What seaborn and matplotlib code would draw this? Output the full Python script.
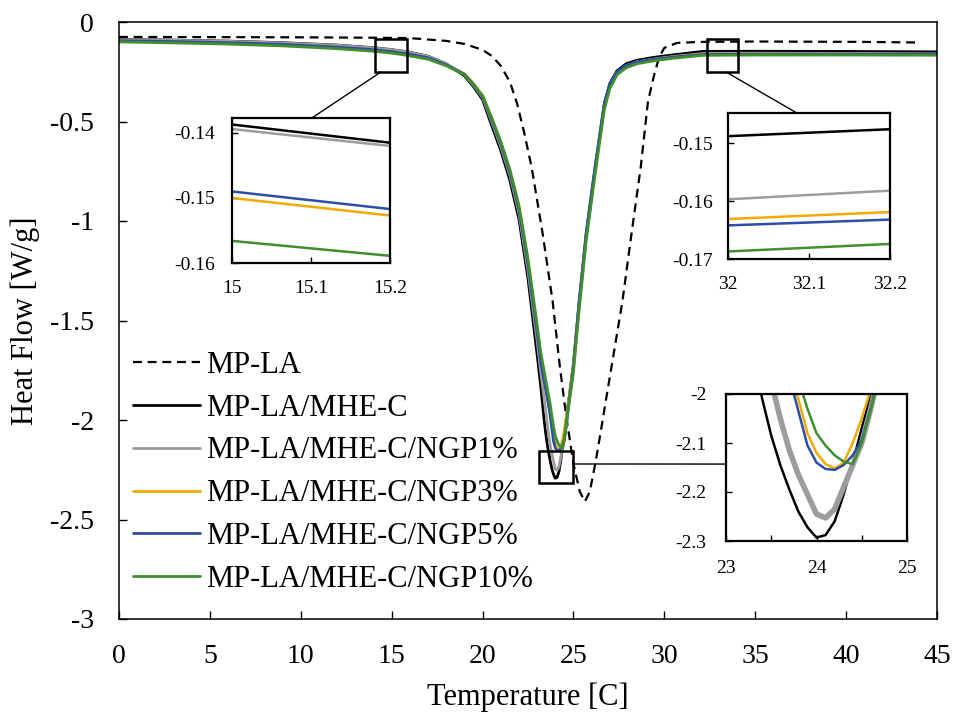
import numpy as np
import pandas as pd
import matplotlib
matplotlib.use("Agg")
import matplotlib.pyplot as plt
import seaborn as sns
from matplotlib.patches import Rectangle, ConnectionPatch
from matplotlib.ticker import FuncFormatter

# ---------------- data ----------------
temp_mpla = [0, 5, 10, 14, 16, 18, 19, 20, 20.5, 21, 21.5, 21.9, 22.3, 22.7, 23.3,
             23.85, 24.25, 24.6, 25.0, 25.35, 25.63, 25.9, 26.2, 26.5, 26.75, 27.1,
             27.7, 28.2, 28.7, 29.1, 29.4, 29.7, 30.0, 30.7, 32, 35, 38, 41, 44]
hf_mpla = [-0.075, -0.076, -0.077, -0.079, -0.081, -0.095, -0.11, -0.14, -0.17, -0.22,
           -0.30, -0.41, -0.56, -0.73, -1.06, -1.40, -1.73, -1.98, -2.22, -2.36, -2.41,
           -2.36, -2.22, -2.06, -1.92, -1.73, -1.40, -1.06, -0.73, -0.40, -0.28, -0.18,
           -0.13, -0.105, -0.10, -0.098, -0.099, -0.100, -0.103]

temp = [0, 3, 6, 9, 12, 14, 15, 15.2, 16, 17, 18, 19, 19.5, 20, 20.5, 21, 21.5, 22, 22.5, 23,
        23.2, 23.3, 23.4, 23.5, 23.6, 23.7, 23.8, 23.9, 24.0, 24.1, 24.2, 24.3, 24.4, 24.5,
        24.6, 24.7, 24.8, 25.0, 25.3, 25.7, 26.2, 26.7, 27.0, 27.4, 27.9, 28.5, 29.4, 30.5,
        32, 32.2, 35, 40, 45]

hf_mhec = [-0.088, -0.091, -0.096, -0.104, -0.116, -0.129, -0.1387, -0.1415, -0.152, -0.172,
           -0.21, -0.27, -0.325, -0.39, -0.52, -0.645, -0.795, -0.99, -1.29, -1.67,
           -1.83, -1.92, -2.01, -2.085, -2.145, -2.195, -2.24, -2.272, -2.293, -2.288, -2.26,
           -2.205, -2.14, -2.07, -2.00, -1.93, -1.86, -1.72, -1.42, -1.07, -0.73, -0.41,
           -0.31, -0.245, -0.21, -0.192, -0.178, -0.165, -0.1488, -0.1476, -0.147, -0.148, -0.150]
hf_ngp1 = [-0.089, -0.092, -0.097, -0.105, -0.117, -0.130, -0.1394, -0.1420, -0.153, -0.173,
           -0.21, -0.265, -0.318, -0.38, -0.50, -0.625, -0.77, -0.96, -1.25, -1.60,
           -1.76, -1.83, -1.90, -1.975, -2.05, -2.115, -2.165, -2.205, -2.245, -2.253, -2.235,
           -2.19, -2.145, -2.10, -2.03, -1.95, -1.88, -1.74, -1.44, -1.08, -0.74, -0.42,
           -0.32, -0.255, -0.22, -0.20, -0.186, -0.173, -0.1597, -0.1582, -0.157, -0.158, -0.160]
hf_ngp3 = [-0.095, -0.099, -0.105, -0.113, -0.127, -0.140, -0.1500, -0.1527, -0.163, -0.181,
           -0.216, -0.26, -0.31, -0.37, -0.485, -0.605, -0.75, -0.93, -1.21, -1.55,
           -1.70, -1.75, -1.80, -1.85, -1.90, -1.95, -2.01, -2.08, -2.12, -2.143, -2.152,
           -2.14, -2.10, -2.05, -1.99, -1.93, -1.86, -1.72, -1.43, -1.07, -0.73, -0.42,
           -0.32, -0.255, -0.22, -0.202, -0.189, -0.176, -0.1631, -0.1619, -0.161, -0.162, -0.163]
hf_ngp5 = [-0.094, -0.098, -0.104, -0.112, -0.126, -0.139, -0.1490, -0.1517, -0.162, -0.180,
           -0.215, -0.262, -0.312, -0.375, -0.49, -0.61, -0.755, -0.94, -1.22, -1.56,
           -1.71, -1.76, -1.81, -1.86, -1.91, -1.965, -2.035, -2.105, -2.14, -2.153, -2.155,
           -2.145, -2.125, -2.095, -2.03, -1.95, -1.88, -1.73, -1.42, -1.06, -0.72, -0.41,
           -0.31, -0.25, -0.218, -0.20, -0.188, -0.176, -0.1642, -0.1632, -0.162, -0.162, -0.163]
hf_ngp10 = [-0.100, -0.105, -0.111, -0.120, -0.134, -0.147, -0.1566, -0.1589, -0.170, -0.187,
            -0.22, -0.265, -0.315, -0.37, -0.48, -0.60, -0.74, -0.92, -1.19, -1.52,
            -1.66, -1.71, -1.76, -1.81, -1.86, -1.91, -1.97, -2.03, -2.08, -2.105, -2.125,
            -2.138, -2.143, -2.10, -2.03, -1.96, -1.89, -1.76, -1.46, -1.10, -0.76, -0.44,
            -0.335, -0.265, -0.23, -0.21, -0.195, -0.182, -0.1687, -0.1674, -0.166, -0.166, -0.167]

series_names = ["MP-LA/MHE-C", "MP-LA/MHE-C/NGP1%", "MP-LA/MHE-C/NGP3%",
                "MP-LA/MHE-C/NGP5%", "MP-LA/MHE-C/NGP10%"]
series_values = [hf_mhec, hf_ngp1, hf_ngp3, hf_ngp5, hf_ngp10]
series_colors = ["#000000", "#9c9c9c", "#f2a900", "#2d4ea6", "#3f8f2e"]

main_yticks = [0, -0.5, -1, -1.5, -2, -2.5, -3]
main_xticks = [0, 5, 10, 15, 20, 25, 30, 35, 40, 45]

# ---------------- style ----------------
sns.set_theme(style="white")
plt.rcParams["font.family"] = ["Liberation Serif", "DejaVu Serif"]
plt.rcParams["axes.unicode_minus"] = False

W, H = 954, 713
fig = plt.figure(figsize=(W / 100, H / 100), dpi=100)


def fax(x0, y0, x1, y1):
    return fig.add_axes([x0 / W, 1 - y1 / H, (x1 - x0) / W, (y1 - y0) / H])


fmt = FuncFormatter(lambda v, p: f"{v:g}")

ax = fax(119, 22, 937, 619)
ax1 = fax(232, 118, 390, 263)
ax2 = fax(728, 113, 890, 259)
ax3 = fax(726, 394, 907, 541)


def draw(a, lw_scale=1.0, thick_gray=False, legend=False, dashed=True):
    if dashed:
        sns.lineplot(x=temp_mpla, y=hf_mpla, ax=a, color="black", lw=1.6,
                     linestyle=(0, (4, 2.6)), sort=False, estimator=None,
                     label="MP-LA" if legend else None, legend=legend)
    for name, vals, col in zip(series_names, series_values, series_colors):
        lw = 2.0 * lw_scale
        if thick_gray and name.endswith("NGP1%"):
            lw = 4.0
        sns.lineplot(x=temp, y=vals, ax=a, color=col, lw=lw, sort=False,
                     estimator=None, label=name if legend else None, legend=legend)


draw(ax, legend=True)
ax.set_xlim(0, 45)
ax.set_ylim(-3, 0)
ax.set_xticks(main_xticks)
ax.set_yticks(main_yticks)
ax.xaxis.set_major_formatter(fmt)
ax.yaxis.set_major_formatter(fmt)
ax.tick_params(axis="both", direction="in", length=6, width=1, labelsize=20,
               colors="black", bottom=True, left=True, top=False, right=False)
ax.tick_params(axis="x", pad=18)
ax.tick_params(axis="y", pad=18)
for s in ax.spines.values():
    s.set_color("black")
    s.set_linewidth(1.1)
ax.set_xlabel("Temperature [C]", fontsize=22, color="black")
ax.set_ylabel("Heat Flow [W/g]", fontsize=22, color="black")
ax.xaxis.set_label_coords(0.5, (619 - 682) / 597)
ax.yaxis.set_label_coords((40 - 119) / 818, 0.5)

leg = ax.legend(loc="upper left", bbox_to_anchor=(133 / W, 1 - 351 / H),
                bbox_transform=fig.transFigure, frameon=False, fontsize=22,
                handlelength=2.2, handletextpad=0.2, labelspacing=0.45,
                borderpad=0, borderaxespad=0)
for t in leg.get_texts():
    t.set_color("black")

# insets
insets = [
    (ax1, (15, 15.2), (-0.16, -0.1377), [15, 15.1, 15.2], [-0.14, -0.15, -0.16], [], 12, 12),
    (ax2, (32, 32.2), (-0.17, -0.1448), [32, 32.1, 32.2], [-0.15, -0.16, -0.17], [], 12, 11),
    (ax3, (23, 25), (-2.3, -2.0), [23, 24, 25], [-2, -2.1, -2.2, -2.3], [23.5, 24.5], 14, 14),
]
for a, xl, yl, xt, yt, xminor, xpad, ypad in insets:
    draw(a, lw_scale=0.9, thick_gray=(a is ax3), dashed=False)
    a.set_xlim(*xl)
    a.set_ylim(*yl)
    a.set_xticks(xt)
    a.set_yticks(yt)
    if xminor:
        a.set_xticks(xminor, minor=True)
    a.xaxis.set_major_formatter(fmt)
    a.yaxis.set_major_formatter(fmt)
    a.set_xlabel("")
    a.set_ylabel("")
    a.set_facecolor("white")
    a.tick_params(axis="both", which="both", direction="in", length=4, width=1,
                  labelsize=14, colors="black", bottom=True, left=True)
    a.tick_params(axis="x", pad=xpad)
    a.tick_params(axis="y", pad=ypad)
    for s in a.spines.values():
        s.set_color("black")
        s.set_linewidth(1.6)

# zoom boxes on the main axes
boxes = [(14.08, -0.251, 1.76, 0.166), (32.34, -0.251, 1.71, 0.166), (23.1, -2.317, 1.87, 0.161)]
for bx, by, bw, bh in boxes:
    ax.add_patch(Rectangle((bx, by), bw, bh, fill=False, ec="black", lw=1.8, zorder=10))

cons = [((14.41, -0.251), ax1, (15.101, -0.1377)),
        ((33.39, -0.251), ax2, (32.085, -0.1448)),
        ((24.97, -2.221), ax3, (23.0, -2.143))]
for pa, axb, pb in cons:
    cp = ConnectionPatch(xyA=pa, coordsA=ax.transData, xyB=pb, coordsB=axb.transData,
                         color="black", lw=1.0, zorder=9)
    fig.add_artist(cp)

fig.savefig("out.png", dpi=100)
